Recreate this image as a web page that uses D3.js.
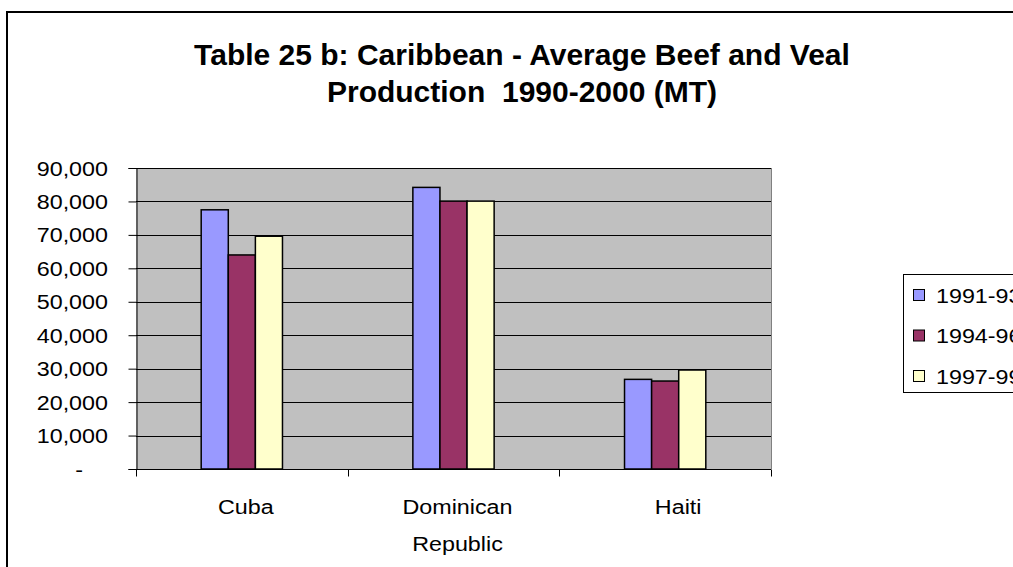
<!DOCTYPE html>
<html>
<head>
<meta charset="utf-8">
<script src="https://cdn.jsdelivr.net/npm/d3@7"></script>
<style>
  html, body { margin: 0; padding: 0; background: #fff; }
  svg { display: block; font-family: "Liberation Sans", Arial, sans-serif; }
</style>
</head>
<body>
<svg id="chart" width="1013" height="567"></svg>
<script>
// Average beef and veal production (metric tonnes) by country and period
const countries = ["Cuba", "Dominican Republic", "Haiti"];
const periods = ["1991-93", "1994-96", "1997-99"];
const prod1991_93 = [77500, 84200, 26800];
const prod1994_96 = [64000, 80100, 26300];
const prod1997_99 = [69600, 80100, 29600];
const yTicks = [0, 10000, 20000, 30000, 40000, 50000, 60000, 70000, 80000, 90000];
const titleLines = ["Table 25 b: Caribbean - Average Beef and Veal", "Production  1990-2000 (MT)"];

const seriesValues = [prod1991_93, prod1994_96, prod1997_99];
const colors = ["#9999FF", "#993366", "#FFFFCC"];

// small labels are set slightly wide
const labelSize = 21;
const labelStretch = 1.11;

const svg = d3.select("#chart");

// outer chart frame (continues past the right and bottom edges)
svg.append("rect")
  .attr("x", 7).attr("y", 12)
  .attr("width", 1100).attr("height", 700)
  .attr("fill", "#fff").attr("stroke", "#000").attr("stroke-width", 2);

// title
const title = svg.append("text")
  .attr("text-anchor", "middle")
  .attr("font-weight", "bold")
  .attr("font-size", 30)
  .attr("fill", "#000");
titleLines.forEach((t, i) => {
  title.append("tspan")
    .attr("x", 522)
    .attr("y", 65 + i * 37)
    .attr("xml:space", "preserve")
    .style("white-space", "pre")
    .text(t);
});

// plot area
const plot = { left: 136, top: 168, right: 771, bottom: 469 };

const x0 = d3.scaleBand()
  .domain(countries)
  .range([plot.left, plot.right])
  .paddingInner(0).paddingOuter(0);

const barW = x0.bandwidth() * 0.128;
const x1 = d3.scaleBand()
  .domain(periods)
  .range([0, barW * periods.length]);

const y = d3.scaleLinear()
  .domain([0, 90000])
  .range([plot.bottom, plot.top]);

svg.append("rect")
  .attr("x", plot.left).attr("y", plot.top)
  .attr("width", plot.right - plot.left)
  .attr("height", plot.bottom - plot.top)
  .attr("fill", "#C0C0C0");

// horizontal gridlines
svg.append("g")
  .selectAll("line")
  .data(yTicks.filter(d => d > 0))
  .join("line")
  .attr("x1", plot.left).attr("x2", plot.right)
  .attr("y1", d => Math.round(y(d)) + 0.5)
  .attr("y2", d => Math.round(y(d)) + 0.5)
  .attr("stroke", "#000").attr("stroke-width", 1);

// right border of the plot area
svg.append("line")
  .attr("x1", plot.right + 0.5).attr("x2", plot.right + 0.5)
  .attr("y1", plot.top).attr("y2", plot.bottom)
  .attr("stroke", "#808080").attr("stroke-width", 1);

// bars
const groups = svg.append("g")
  .selectAll("g")
  .data(countries)
  .join("g")
  .attr("transform", d => `translate(${x0(d) + (x0.bandwidth() - barW * periods.length) / 2},0)`);

groups.selectAll("rect")
  .data((c, ci) => periods.map((p, si) => ({ period: p, value: seriesValues[si][ci], color: colors[si] })))
  .join("rect")
  .attr("x", d => x1(d.period))
  .attr("y", d => y(d.value))
  .attr("width", x1.bandwidth())
  .attr("height", d => y(0) - y(d.value))
  .attr("fill", d => d.color)
  .attr("stroke", "#000")
  .attr("stroke-width", 1.5);

// y axis: line and tick marks from d3, labels placed beside them
const yAxis = d3.axisLeft(y)
  .tickValues(yTicks)
  .tickSize(8)
  .tickFormat("");

const yg = svg.append("g")
  .attr("transform", `translate(${plot.left + 0.5},0)`)
  .call(yAxis);
yg.select(".domain").attr("stroke", "#000");
yg.selectAll(".tick line").attr("stroke", "#000");

const fmt = d3.format(",");
svg.append("g")
  .selectAll("text")
  .data(yTicks)
  .join("text")
  .attr("transform", d => `translate(${d === 0 ? 83 : 108},${y(d) + 7.5}) scale(${labelStretch},1)`)
  .attr("text-anchor", "end")
  .attr("font-size", labelSize)
  .attr("fill", "#000")
  .text(d => d === 0 ? "-" : fmt(d));

// x axis (ticks at category boundaries)
const xg = svg.append("g")
  .attr("transform", `translate(0,${plot.bottom + 0.5})`);
xg.append("line")
  .attr("x1", plot.left).attr("x2", plot.right)
  .attr("stroke", "#000");
xg.selectAll("line.tick")
  .data(countries.map(c => x0(c)).concat([plot.right]))
  .join("line")
  .attr("class", "tick")
  .attr("x1", d => Math.round(d) + 0.5).attr("x2", d => Math.round(d) + 0.5)
  .attr("y1", 0).attr("y2", 7)
  .attr("stroke", "#000");

// category labels, wrapped onto two lines where long
const labelShift = { "Cuba": 4, "Dominican Republic": 4, "Haiti": 13 };
xg.selectAll("g.cat")
  .data(countries)
  .join("g")
  .attr("class", "cat")
  .each(function (c) {
    const cx = x0(c) + x0.bandwidth() / 2 + labelShift[c];
    c.split(" ").forEach((w, i) => {
      d3.select(this).append("text")
        .attr("transform", `translate(${cx},${44 + i * 37}) scale(${labelStretch},1)`)
        .attr("text-anchor", "middle")
        .attr("font-size", labelSize)
        .attr("fill", "#000")
        .text(w);
    });
  });

// legend
const lg = svg.append("g");
lg.append("rect")
  .attr("x", 903.5).attr("y", 274.5)
  .attr("width", 140).attr("height", 118)
  .attr("fill", "#fff").attr("stroke", "#000");
const items = lg.selectAll("g.item")
  .data(periods)
  .join("g")
  .attr("class", "item")
  .attr("transform", (d, i) => `translate(913,${295 + i * 40.5})`);
items.append("rect")
  .attr("x", 0.5).attr("y", -5.5)
  .attr("width", 11).attr("height", 11)
  .attr("fill", (d, i) => colors[i])
  .attr("stroke", "#000");
items.append("text")
  .attr("transform", `translate(23,7.5) scale(${labelStretch},1)`)
  .attr("font-size", labelSize)
  .attr("fill", "#000")
  .text(d => d);
</script>
</body>
</html>
